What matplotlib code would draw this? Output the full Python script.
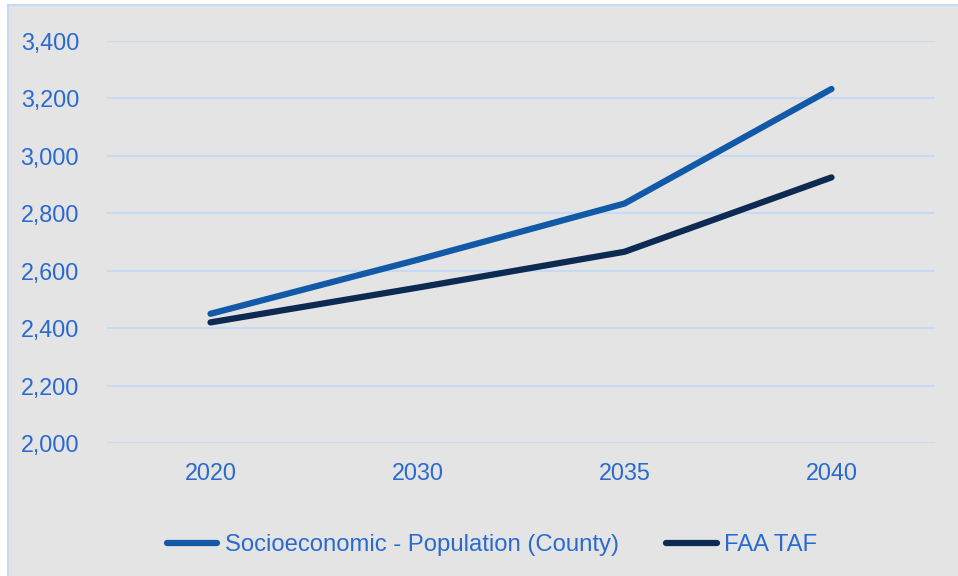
import matplotlib
matplotlib.use("Agg")
import matplotlib.pyplot as plt
from matplotlib.patches import Rectangle
from matplotlib.ticker import FuncFormatter

years = ["2020", "2030", "2035", "2040"]
population = [2450, 2638, 2834, 3233]
faa_taf = [2420, 2541, 2666, 2925]
series_names = ["Socioeconomic - Population (County)", "FAA TAF"]
y_ticks = [2000, 2200, 2400, 2600, 2800, 3000, 3200, 3400]

plt.rcParams["font.family"] = ["Liberation Sans", "DejaVu Sans"]

text_color = "#2a6acf"
grid_color = "#c6daf4"
panel_color = "#e4e4e4"
blue = "#125aa8"
navy = "#0c2a52"
font_size = 16.8

fig = plt.figure(figsize=(9.58, 5.76), dpi=100)
fig.patch.set_facecolor("white")
fig.patches.append(Rectangle((8 / 958, -0.01), 1, 1.01 - 5 / 576, transform=fig.transFigure,
                             facecolor=panel_color, edgecolor=grid_color, linewidth=1.5,
                             zorder=-1))

ax = fig.add_axes([107 / 958, 1 - 443 / 576, (935 - 107) / 958, (443 - 41) / 576])
ax.set_facecolor("none")

x = range(len(years))
ax.plot(x, population, color=blue, linewidth=4.5, solid_capstyle="round",
        solid_joinstyle="round", label=series_names[0], zorder=3)
ax.plot(x, faa_taf, color=navy, linewidth=4.5, solid_capstyle="round",
        solid_joinstyle="round", label=series_names[1], zorder=3)

ax.set_xlim(-0.5, len(years) - 0.5)
ax.set_ylim(2000, 3400)
ax.set_yticks(y_ticks)
ax.yaxis.set_major_formatter(FuncFormatter(lambda v, p: f"{int(v):,}"))
ax.set_xticks(list(x))
ax.set_xticklabels(years)

ax.grid(axis="y", color=grid_color, linewidth=1.5, zorder=0)
for s in ax.spines.values():
    s.set_visible(False)
ax.tick_params(axis="both", length=0, labelsize=font_size, labelcolor=text_color)
ax.tick_params(axis="y", pad=20)
ax.tick_params(axis="x", pad=14)

leg = fig.legend(loc="center", bbox_to_anchor=(0.5136, 1 - 545 / 576), ncol=2,
                 frameon=False, fontsize=17.2, handlelength=2.1, handletextpad=0.3,
                 columnspacing=2.0)
for t in leg.get_texts():
    t.set_color(text_color)

fig.savefig("out.png", dpi=100, facecolor=fig.get_facecolor())
